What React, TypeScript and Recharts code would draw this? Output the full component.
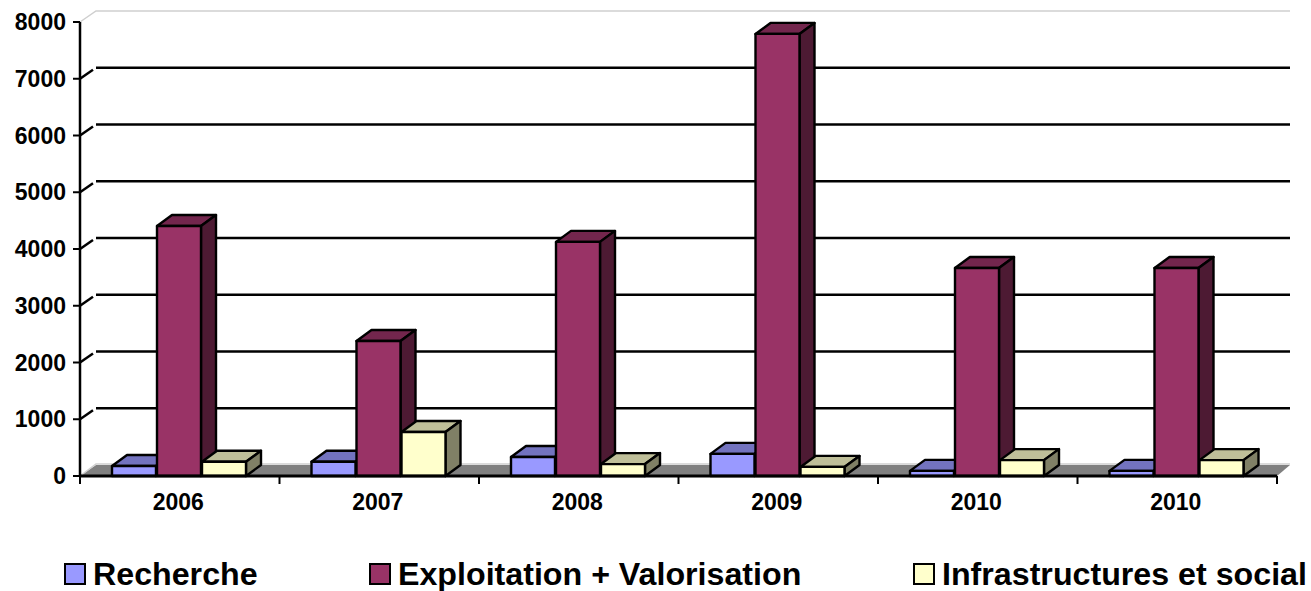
import { BarChart, Bar, XAxis, YAxis, CartesianGrid } from 'recharts'

const years = ['2006', '2007', '2008', '2009', '2010', '2010']
const recherche = [175, 250, 335, 390, 90, 90]
const exploitation = [4405, 2380, 4125, 7790, 3665, 3665]
const infrastructures = [250, 775, 210, 160, 280, 280]
const yTicks = [0, 1000, 2000, 3000, 4000, 5000, 6000, 7000, 8000]

const chartData = years.map((year, i) => ({
  year,
  recherche: recherche[i],
  exploitation: exploitation[i],
  infrastructures: infrastructures[i],
}))

const font = '"Liberation Sans", Arial, sans-serif'
const depthX = 15
const depthY = 11

function bar3d(topColor: string, sideColor: string) {
  return (props: any) => {
    const { x, y, height, fill } = props
    const width = props.width - 1
    const right = x + width
    const bottom = y + height
    return (
      <g stroke="#000" strokeWidth={2.4} strokeLinejoin="round">
        <polygon
          points={`${x},${y} ${x + depthX},${y - depthY} ${right + depthX},${y - depthY} ${right},${y}`}
          fill={topColor}
        />
        <polygon
          points={`${right},${y} ${right + depthX},${y - depthY} ${right + depthX},${bottom - depthY} ${right},${bottom}`}
          fill={sideColor}
        />
        <rect x={x} y={y} width={width} height={height} fill={fill} />
      </g>
    )
  }
}

// 3D walls: each gridline is pushed back and joined to its tick by a short diagonal
function gridLine(props: any) {
  const { x1, x2, y1, index } = props
  const backY = y1 - depthY
  const backLeft = x1 + 16
  const backRight = x2 + 13
  if (y1 > 450) {
    return (
      <g key={`floor-${index}`}>
        <polygon points={`${x1},${y1} ${backLeft},${backY} ${backRight},${backY} ${x2},${y1}`} fill="#808080" />
        <polyline points={`${x1},${y1} ${backLeft},${backY - 1} ${backRight},${backY - 1}`} fill="none" stroke="#d0d0d0" strokeWidth={1.5} />
      </g>
    )
  }
  if (y1 < 40) {
    return (
      <polyline
        key={`top-${index}`}
        points={`${x1},${y1} ${backLeft},${backY} ${backRight},${backY}`}
        fill="none"
        stroke="#cfcfcf"
        strokeWidth={1.5}
      />
    )
  }
  return (
    <g key={`line-${index}`} stroke="#000" strokeWidth={2.5}>
      <line x1={x1} y1={y1} x2={x1 + 13} y2={y1 - 9} />
      <line x1={backLeft} y1={backY} x2={backRight} y2={backY} />
    </g>
  )
}

// ticks sit on the category boundaries, labels in the middle
function yearTick(props: any) {
  const { x, y, payload, index } = props
  const step = 199.5
  return (
    <g>
      {index === 0 && <line x1={x - step / 2} y1={476} x2={x - step / 2} y2={484} stroke="#000" strokeWidth={2} />}
      <line x1={x + step / 2} y1={476} x2={x + step / 2} y2={484} stroke="#000" strokeWidth={2} />
      <text x={x - 1.5} y={y + 26} textAnchor="middle" fontFamily={font} fontWeight="bold" fontSize={23} fill="#000">
        {payload.value}
      </text>
    </g>
  )
}

const legendItems = [
  { name: 'Recherche', color: '#9999FF', left: 64 },
  { name: 'Exploitation + Valorisation', color: '#993366', left: 369 },
  { name: 'Infrastructures et social', color: '#FFFFCC', left: 913 },
]

export default function App() {
  return (
    <div style={{ position: 'absolute', left: 0, top: 0, width: 1311, height: 591, background: '#fff', overflow: 'hidden' }}>
      <BarChart
        width={1311}
        height={591}
        data={chartData}
        margin={{ top: 22, right: 34, left: 0, bottom: 0 }}
        barCategoryGap={32}
        barGap={0}
        barSize={45}
      >
        <CartesianGrid vertical={false} horizontal={gridLine} />
        <XAxis
          dataKey="year"
          height={115}
          interval={0}
          tick={yearTick}
          tickLine={false}
          axisLine={{ stroke: '#000', strokeWidth: 3 }}
        />
        <YAxis
          width={80}
          domain={[0, 8000]}
          ticks={yTicks}
          interval={0}
          tickSize={7}
          tickMargin={7}
          tick={{ fontFamily: font, fontWeight: 'bold', fontSize: 23, fill: '#000' }}
          tickLine={{ stroke: '#000', strokeWidth: 2 }}
          axisLine={{ stroke: '#000', strokeWidth: 2.5 }}
        />
        <Bar dataKey="recherche" fill="#9999FF" isAnimationActive={false} shape={bar3d('#7373BF', '#5C5C99')} />
        <Bar dataKey="exploitation" fill="#993366" isAnimationActive={false} shape={bar3d('#73264D', '#4D1A33')} />
        <Bar dataKey="infrastructures" fill="#FFFFCC" isAnimationActive={false} shape={bar3d('#BFBF99', '#808066')} />
      </BarChart>
      {legendItems.map(item => (
        <div key={item.name} style={{ position: 'absolute', left: item.left, top: 555, height: 38, display: 'flex', alignItems: 'center', whiteSpace: 'nowrap' }}>
          <span style={{ width: 18, height: 18, border: '2px solid #000', background: item.color, marginRight: 7, boxSizing: 'content-box' }} />
          <span style={{ fontFamily: font, fontWeight: 'bold', fontSize: 32.2, color: '#000' }}>{item.name}</span>
        </div>
      ))}
    </div>
  )
}
